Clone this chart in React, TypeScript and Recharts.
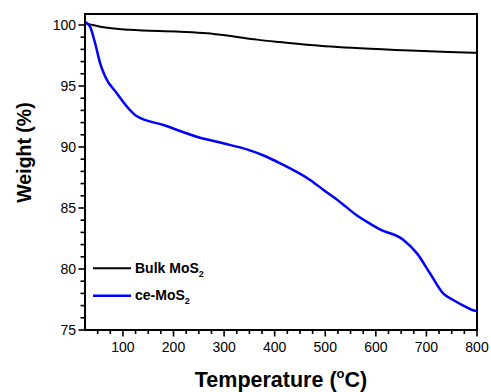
import React from 'react';
import {
  LineChart,
  Line,
  XAxis,
  YAxis,
  Legend,
  Label,
  ReferenceArea
} from 'recharts';

// ce-MoS2 curve (temperature in °C, weight in %)
const ceTemp = [25, 35, 45, 55, 65, 88, 114, 127, 180, 246, 298, 345, 384, 411, 470, 496, 529, 562, 589, 608, 654, 681, 707, 733, 753, 773, 794, 800];
const ceWeight = [100.25, 99.86, 98.5, 96.86, 95.76, 94.4, 93.03, 92.54, 91.8, 90.84, 90.3, 89.8, 89.2, 88.66, 87.3, 86.5, 85.5, 84.4, 83.7, 83.25, 82.4, 81.3, 79.65, 78.0, 77.46, 77.0, 76.6, 76.55];

// Bulk MoS2 curve
const bulkTemp = [25, 55, 114, 213, 266, 312, 365, 410, 470, 569, 668, 793, 800];
const bulkWeight = [100.14, 99.86, 99.6, 99.45, 99.32, 99.1, 98.8, 98.6, 98.36, 98.09, 97.9, 97.73, 97.72];

const xTicks = [50, 75, 100, 125, 150, 175, 200, 225, 250, 275, 300, 325, 350, 375, 400, 425, 450, 475, 500, 525, 550, 575, 600, 625, 650, 675, 700, 725, 750, 775, 800];
const yTicks = [75, 76, 77, 78, 79, 80, 81, 82, 83, 84, 85, 86, 87, 88, 89, 90, 91, 92, 93, 94, 95, 96, 97, 98, 99, 100];

const ceData = ceTemp.map((t, i) => ({ t, w: ceWeight[i] }));
const bulkData = bulkTemp.map((t, i) => ({ t, w: bulkWeight[i] }));

const FONT = 'Arial, "Liberation Sans", sans-serif';

// major ticks get a label, minor ticks only a short mark
const XTick = (props: any) => {
  const x = Number(props.x);
  const y = Number(props.y);
  const value = props.payload.value;
  const major = value % 100 === 0;
  return (
    <g>
      <rect x={x - 0.8} y={y} width={1.6} height={major ? 6.5 : 4} fill="#000" />
      {major && (
        <text x={x} y={y + 21.5} textAnchor="middle" fontSize={14} fontFamily={FONT} fill="#000">
          {value}
        </text>
      )}
    </g>
  );
};

const YTick = (props: any) => {
  const x = Number(props.x);
  const y = Number(props.y);
  const value = props.payload.value;
  const major = value % 5 === 0;
  const len = major ? 6.5 : 4.5;
  return (
    <g>
      <rect x={x - len} y={y - 0.8} width={len} height={1.6} fill="#000" />
      {major && (
        <text x={x - 9} y={y + 5} textAnchor="end" fontSize={14} fontFamily={FONT} fill="#000">
          {value}
        </text>
      )}
    </g>
  );
};

const XTitle = (props: any) => {
  const { x, y, width } = props.viewBox;
  return (
    <text x={x + width / 2} y={y + 56.7} textAnchor="middle" fontSize={21.5} fontWeight="bold" fontFamily={FONT} fill="#000">
      Temperature (<tspan fontSize={13} dy={-9}>o</tspan><tspan dy={9}>C)</tspan>
    </text>
  );
};

const YTitle = () => (
  <text
    x={31}
    y={152.5}
    transform="rotate(-90, 31, 152.5)"
    textAnchor="middle"
    fontSize={19.5}
    fontWeight="bold"
    fontFamily={FONT}
    fill="#000"
  >
    Weight (%)
  </text>
);

const LegendBox = () => (
  <svg width={150} height={50} style={{ display: 'block' }}>
    <line x1={0} x2={38} y1={10.3} y2={10.3} stroke="#000" strokeWidth={2} />
    <text x={42} y={15.3} fontSize={14} fontWeight="bold" fontFamily={FONT} fill="#000">
      Bulk MoS<tspan fontSize={9} dy={4}>2</tspan>
    </text>
    <line x1={0} x2={38} y1={37.7} y2={37.7} stroke="#0000ff" strokeWidth={2.5} />
    <text x={42} y={42} fontSize={14} fontWeight="bold" fontFamily={FONT} fill="#000">
      ce-MoS<tspan fontSize={9} dy={4}>2</tspan>
    </text>
  </svg>
);

export default function App() {
  return (
    <div style={{ position: 'absolute', left: 0, top: 0, background: '#fff' }}>
      <LineChart width={491} height={392} margin={{ top: 14, right: 14, bottom: 0, left: 0 }}>
        <XAxis
          type="number"
          dataKey="t"
          domain={[25, 800]}
          ticks={xTicks}
          interval={0}
          allowDataOverflow
          height={62}
          axisLine={false}
          tickLine={false}
          tickSize={0}
          tickMargin={0}
          tick={<XTick />}
        >
          <Label content={<XTitle />} />
        </XAxis>
        <YAxis
          type="number"
          dataKey="w"
          domain={[75, 100.9]}
          ticks={yTicks}
          interval={0}
          allowDataOverflow
          width={85}
          axisLine={false}
          tickLine={false}
          tickSize={0}
          tickMargin={0}
          tick={<YTick />}
        >
          <Label content={<YTitle />} />
        </YAxis>
        <ReferenceArea x1={25} x2={800} y1={75} y2={100.9} fill="none" stroke="#000" strokeWidth={2} ifOverflow="visible" />
        <Line
          data={bulkData}
          dataKey="w"
          type="monotone"
          stroke="#000"
          strokeWidth={2}
          dot={false}
          isAnimationActive={false}
        />
        <Line
          data={ceData}
          dataKey="w"
          type="monotone"
          stroke="#0000ff"
          strokeWidth={2.5}
          dot={false}
          isAnimationActive={false}
        />
        <Legend
          layout="vertical"
          align="center"
          verticalAlign="middle"
          content={<LegendBox />}
          wrapperStyle={{ left: 93, top: 258, width: 150 }}
        />
      </LineChart>
    </div>
  );
}
